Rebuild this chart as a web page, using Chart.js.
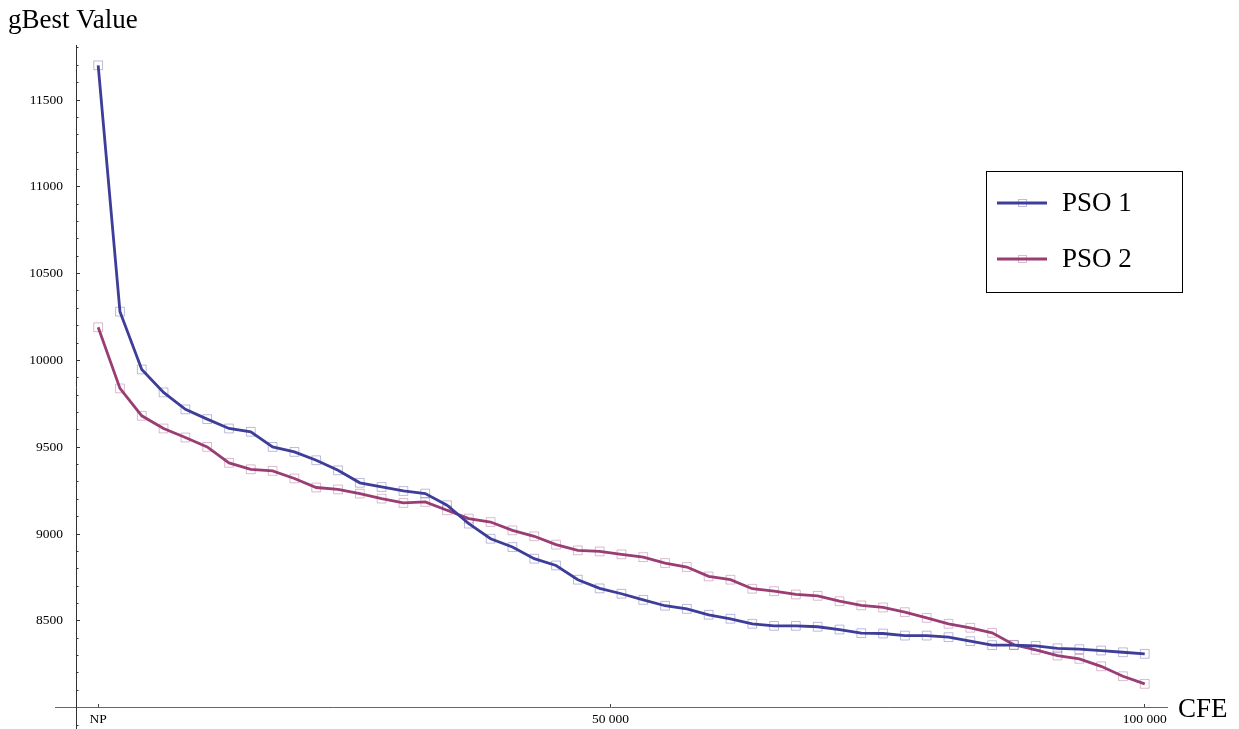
<!DOCTYPE html>
<html>
<head>
<meta charset="utf-8">
<title>gBest Value vs CFE</title>
<script src="https://cdn.jsdelivr.net/npm/chart.js@4.4.1/dist/chart.umd.min.js"></script>
<style>
  html, body { margin: 0; padding: 0; background: #fff; }
  #wrap { width: 1239px; height: 729px; }
</style>
</head>
<body>
<div id="wrap"><canvas id="chart" width="1239" height="729"></canvas></div>
<script>
// CFE at each recorded iteration (first one is NP)
const cfe = [
  2041, 4082, 6122, 8163, 10204, 12245, 14286, 16327, 18367, 20408,
  22449, 24490, 26531, 28571, 30612, 32653, 34694, 36735, 38776, 40816,
  42857, 44898, 46939, 48980, 51020, 53061, 55102, 57143, 59184, 61224,
  63265, 65306, 67347, 69388, 71429, 73469, 75510, 77551, 79592, 81633,
  83673, 85714, 87755, 89796, 91837, 93878, 95918, 97959, 100000
];
const pso1 = [
  11700, 10281, 9948, 9816, 9718, 9662, 9608, 9589, 9502, 9473,
  9425, 9367, 9295, 9271, 9248, 9233, 9166, 9060, 8973, 8925,
  8858, 8819, 8737, 8687, 8656, 8621, 8587, 8569, 8535, 8512,
  8483, 8471, 8471, 8466, 8450, 8429, 8427, 8415, 8415, 8406,
  8383, 8360, 8360, 8356, 8342, 8337, 8329, 8319, 8310
];
const pso2 = [
  10191, 9839, 9681, 9608, 9556, 9502, 9410, 9373, 9364, 9320,
  9268, 9257, 9233, 9204, 9179, 9185, 9137, 9089, 9069, 9021,
  8987, 8939, 8906, 8900, 8883, 8867, 8833, 8810, 8756, 8737,
  8685, 8671, 8652, 8644, 8613, 8589, 8577, 8550, 8517, 8483,
  8460, 8431, 8362, 8333, 8300, 8281, 8238, 8181, 8137
];
const seriesNames = ["PSO 1", "PSO 2"];
const xTicks = [2041, 50000, 100000];
const xTickLabels = ["NP", "50 000", "100 000"];
const yTicks = [8500, 9000, 9500, 10000, 10500, 11000, 11500];
const yTickLabels = ["8500", "9000", "9500", "10000", "10500", "11000", "11500"];
const yMinorTicks = [];
for (let v = 7900; v <= 11800; v += 100) yMinorTicks.push(v);
const xTitle = "CFE";
const yTitle = "gBest Value";

const serif = '"Liberation Serif", "Times New Roman", serif';
const blue = "#3e3d99";
const plum = "#993d74";
const yMin = 7877;
const yMax = 11817;

function series(ys) {
  return cfe.map((x, i) => ({ x: x, y: ys[i] }));
}

// scales must not eat layout space, the axes sit at data positions
function noSpace(s) {
  if (s.isHorizontal()) s.height = 0; else s.width = 0;
  s.paddingTop = 0;
  s.paddingBottom = 0;
  s.paddingLeft = 0;
  s.paddingRight = 0;
}

// axis titles + boxed legend, Mathematica style
const extras = {
  id: "extras",
  afterDraw(chart) {
    const ctx = chart.ctx;
    ctx.save();
    ctx.fillStyle = "#000";
    ctx.font = "27px " + serif;
    ctx.textAlign = "left";
    ctx.textBaseline = "alphabetic";
    ctx.fillText(yTitle, 8, 28);
    ctx.fillText(xTitle, 1178, 717);

    // legend box
    ctx.fillStyle = "#fff";
    ctx.fillRect(986.5, 171.5, 196, 121);
    ctx.strokeStyle = "#000";
    ctx.lineWidth = 1;
    ctx.strokeRect(986.5, 171.5, 196, 121);
    chart.data.datasets.forEach((ds, i) => {
      const y = 203 + i * 56;
      ctx.strokeStyle = ds.borderColor;
      ctx.lineWidth = 3;
      ctx.beginPath();
      ctx.moveTo(997, y);
      ctx.lineTo(1047, y);
      ctx.stroke();
      ctx.strokeStyle = ds.pointBorderColor;
      ctx.lineWidth = 1;
      ctx.strokeRect(1018.5, y - 3.5, 8, 7);
      ctx.fillStyle = "#000";
      ctx.font = "27px " + serif;
      ctx.textBaseline = "middle";
      ctx.fillText(ds.label, 1062, y + 1);
    });
    ctx.restore();
  }
};

const chart = new Chart(document.getElementById("chart"), {
  type: "line",
  data: {
    datasets: [
      {
        label: seriesNames[0],
        data: series(pso1),
        borderColor: blue,
        borderWidth: 2.8,
        pointStyle: "rect",
        pointRadius: 6.2,
        pointBorderWidth: 1,
        pointBorderColor: "rgba(62,61,153,0.35)",
        pointBackgroundColor: "rgba(0,0,0,0)",
        tension: 0
      },
      {
        label: seriesNames[1],
        data: series(pso2),
        borderColor: plum,
        borderWidth: 2.8,
        pointStyle: "rect",
        pointRadius: 6.2,
        pointBorderWidth: 1,
        pointBorderColor: "rgba(153,61,116,0.35)",
        pointBackgroundColor: "rgba(0,0,0,0)",
        tension: 0
      }
    ]
  },
  options: {
    responsive: false,
    animation: false,
    layout: { autoPadding: false, padding: { left: 55, right: 72, top: 45, bottom: 0 } },
    plugins: {
      legend: { display: false },
      tooltip: { enabled: false }
    },
    scales: {
      x: {
        type: "linear",
        min: -2000,
        max: 102085,
        position: { y: 8000 },
        afterFit: noSpace,
        afterBuildTicks: (s) => { s.ticks = xTicks.map((v) => ({ value: v })); },
        border: { color: "#666", width: 1 },
        grid: { drawOnChartArea: false, tickLength: -4, color: "#444" },
        ticks: {
          autoSkip: false,
          maxRotation: 0,
          color: "#000",
          padding: 8,
          font: { family: serif, size: 13.5 },
          callback: (v, i) => xTickLabels[i]
        }
      },
      y: {
        type: "linear",
        min: yMin,
        max: yMax,
        position: { x: 0 },
        afterFit: noSpace,
        afterBuildTicks: (s) => { s.ticks = yTicks.map((v) => ({ value: v })); },
        border: { color: "#333", width: 1 },
        grid: { drawOnChartArea: false, tickLength: -4, color: "#333" },
        ticks: { display: false }
      },
      yMinor: {
        axis: "y",
        type: "linear",
        min: yMin,
        max: yMax,
        position: { x: 0 },
        afterFit: noSpace,
        afterBuildTicks: (s) => { s.ticks = yMinorTicks.map((v) => ({ value: v })); },
        border: { display: false },
        grid: { drawOnChartArea: false, tickLength: -2.5, color: "#333" },
        ticks: { display: false }
      },
      // tick labels only, anchored a little left of the axis line
      yText: {
        axis: "y",
        type: "linear",
        min: yMin,
        max: yMax,
        position: { x: -1250 },
        afterFit: noSpace,
        afterBuildTicks: (s) => { s.ticks = yTicks.map((v) => ({ value: v })); },
        border: { display: false },
        grid: { display: false },
        ticks: {
          color: "#000",
          font: { family: serif, size: 13.5 },
          callback: (v, i) => yTickLabels[i]
        }
      }
    }
  },
  plugins: [extras]
});
</script>
</body>
</html>
